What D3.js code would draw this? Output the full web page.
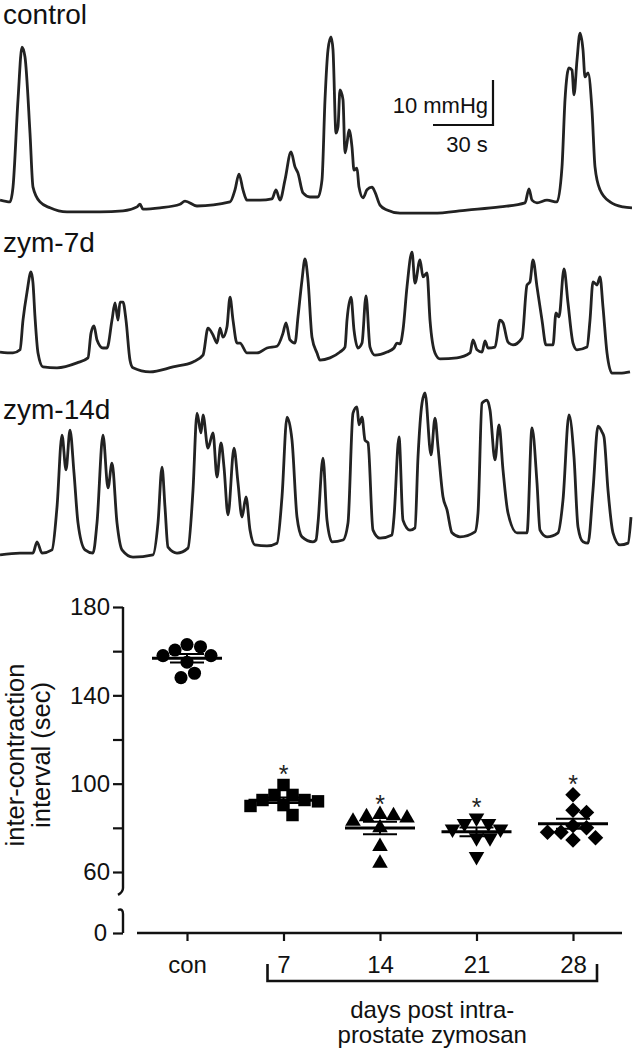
<!DOCTYPE html>
<html>
<head>
<meta charset="utf-8">
<script src="https://cdn.jsdelivr.net/npm/d3@7"></script>
<style>
  html, body { margin: 0; padding: 0; background: #fff; }
  svg { display: block; font-family: "Liberation Sans", Arial, Helvetica, sans-serif; }
</style>
</head>
<body>
<div id="chart"></div>
<script>
// Pressure traces: [time (s), pressure above trace floor (mmHg)]
const controlTrace = [[0,3.3],[5,2.9],[6.5,6.2],[9,25.6],[11,37.3],[12.5,35.1],[15,18.2],[16.5,6.2],[20,2.9],[25,1.6],[33.5,0.7],[50,0.7],[61.5,0.9],[68.5,1.8],[70,2.4],[71.5,1.3],[80,1.6],[90,2.4],[92.5,3.1],[98.5,2.0],[115,2.9],[117.5,5.6],[119.5,9.1],[121.5,5.6],[123.5,3.3],[130,3.3],[136,3.6],[138,5.6],[140,3.3],[142.5,7.8],[145.5,14.0],[147.5,10.7],[149,9.3],[151.5,4.9],[155,4.0],[159,4.0],[161,7.8],[162.5,25.6],[164,36.7],[165.5,39.6],[166.5,36.7],[168,18.2],[169,19.6],[170,27.8],[171.5,25.6],[172.5,13.8],[173.5,16.0],[174.5,18.9],[176,15.1],[177,10.0],[178.5,10.4],[179.5,6.2],[181.5,3.8],[183.5,5.6],[186,6.2],[187.5,5.1],[190,2.2],[193.5,1.1],[200,0.4],[216.5,0.4],[233.5,1.1],[250,1.8],[262.5,2.7],[264.5,5.8],[266,3.3],[268.5,2.7],[273.5,3.3],[278.5,2.9],[281,10.7],[282.5,25.6],[284.5,32.7],[286,32.2],[287,26.7],[288.5,34.4],[290,40.4],[291.5,36.7],[292.5,30.7],[294,31.6],[296,23.3],[297.5,10.7],[300,5.6],[305,2.9],[311.5,1.8],[316,1.6]];

const zym7Trace = [[0,5.1],[6.5,4.9],[10,5.6],[11.5,12.2],[13.5,18.4],[15.5,22.9],[16.5,20.4],[17.5,12.9],[19,4.9],[21.5,1.8],[28.5,1.6],[38.5,2.7],[44,3.8],[45.5,9.3],[47,10.9],[48.5,7.8],[51.5,6.0],[53.5,6.0],[56,12.2],[57.5,16.0],[59,12.2],[60,16.2],[61.5,16.2],[63,12.2],[65,3.3],[66.5,1.6],[75,0.7],[86.5,1.8],[96.5,2.9],[101.5,4.4],[104,10.4],[106.5,8.9],[108.5,7.1],[110,10.4],[111.5,8.4],[113.5,10.7],[115,17.3],[116.5,12.2],[118.5,7.1],[120,7.1],[123.5,4.9],[128.5,4.9],[133.5,6.0],[138.5,6.4],[141.5,9.3],[143,11.6],[145,7.8],[147.5,7.1],[149,12.9],[151,21.1],[152.5,25.8],[154,21.1],[156,8.4],[158.5,4.9],[160,3.3],[165,3.8],[170,5.1],[172.5,6.2],[173.5,12.2],[175.5,17.3],[177,10.0],[179,6.0],[181,7.1],[183,17.6],[185,6.2],[187.5,4.4],[193.5,5.1],[197,6.0],[198.5,7.1],[200,6.9],[201.5,10.0],[203.5,19.6],[206,27.3],[207.5,20.4],[210,25.6],[211.5,21.8],[213.5,22.7],[215,12.2],[217.5,4.9],[220,3.6],[228.5,3.8],[235,4.9],[236.5,7.8],[238.5,5.6],[241,5.1],[242.5,7.6],[244,6.0],[247.5,6.2],[250,12.2],[251.5,11.6],[254,7.3],[256.5,6.7],[261,8.2],[263.5,20.0],[265,20.7],[266.5,25.6],[268.5,19.6],[271,12.2],[273,6.7],[276.5,6.7],[278,13.8],[279.5,12.9],[282,23.6],[284,16.0],[286.5,7.1],[288.5,5.6],[293.5,6.2],[295,12.2],[296.5,20.7],[298.5,20.0],[300,21.8],[301.5,15.1],[303.5,4.9],[306,0.4],[310,0.4],[315,0.7]];

const zym14Trace = [[0,0.7],[10,1.1],[16.5,1.1],[18.5,3.6],[21,1.1],[26,1.8],[28.5,11.3],[31,27.3],[33,19.6],[35,28.4],[37,18.9],[39,7.8],[42.5,1.8],[46.5,1.1],[48.5,7.8],[51.5,27.3],[54,15.6],[56,21.1],[58.5,7.8],[61,1.8],[66.5,0.2],[76.5,0.7],[79,7.8],[81,20.2],[82.5,11.3],[84,2.4],[88.5,1.1],[94,2.2],[96.5,15.1],[98.5,32.2],[100.5,27.8],[101.5,31.8],[104,24.4],[106.5,27.8],[108.5,18.0],[110.5,25.6],[112,20.2],[114,9.6],[117,24.4],[119,16.7],[121,9.1],[123,13.6],[125,6.2],[127.5,2.9],[133.5,2.7],[138.5,3.3],[141,13.6],[143.5,31.3],[146,26.2],[148.5,9.1],[151,4.7],[156.5,3.6],[158,4.0],[159,7.8],[161.5,22.2],[163.5,8.4],[166,3.6],[171.5,4.0],[174,7.8],[176.5,32.2],[178.5,33.6],[179.5,29.6],[181,31.3],[182.5,26.2],[184,25.6],[186.5,6.2],[190,4.4],[196,5.1],[197,9.1],[199.5,26.9],[201.5,8.4],[205,6.2],[207.5,6.7],[209,22.4],[211,34.4],[212.5,36.7],[215.5,22.9],[217.5,31.1],[219,24.7],[221.5,13.6],[223.5,10.7],[226,5.6],[230,4.7],[237.5,5.8],[239,10.0],[241,34.4],[243.5,35.1],[245,32.9],[247.5,21.8],[249.5,29.6],[251.5,19.6],[254,10.0],[258.5,5.6],[263.5,5.6],[266,28.9],[268.5,16.7],[270,6.2],[273.5,4.7],[279,5.6],[281.5,12.9],[284.5,31.8],[287,22.4],[289,6.9],[291.5,3.6],[294,3.3],[296.5,15.1],[299,29.3],[301,28.0],[302,26.9],[304,15.1],[306.5,5.6],[310,2.9],[314,3.3],[315.5,9.1]];

const traceLabels = ['control', 'zym-7d', 'zym-14d'];

// Inter-contraction interval (sec) per animal
const groups = ['con', '7', '14', '21', '28'];
const conValues = [163, 158, 155, 158, 160.5, 162, 148, 150];
const day7Values = [99.4, 94.9, 94.9, 92.6, 92.6, 90.3, 89.9, 85.8, 92];
const day14Values = [85.5, 85, 83, 84.5, 86, 71.5, 64, 80];
const day21Values = [82, 84.5, 82, 79.5, 79.5, 75.5, 75.5, 67];
const day28Values = [95, 88, 87, 81, 78, 78, 80, 74.5, 75.5];
const significant = [false, true, true, true, true];
const yTicks = [60, 80, 100, 120, 140, 160, 180];

const W = 633, H = 1050;
const FONT = '"Liberation Sans", Arial, Helvetica, sans-serif';
const INK = '#111';

const svg = d3.select('#chart').append('svg')
  .attr('width', W).attr('height', H)
  .attr('viewBox', `0 0 ${W} ${H}`);

// ---- traces ----
const tScale = d3.scaleLinear().domain([0, 316.5]).range([0, W]);
const panels = [
  { data: controlTrace, floor: 215, labelY: 24 },
  { data: zym7Trace, floor: 375, labelY: 252 },
  { data: zym14Trace, floor: 558, labelY: 419 },
];

panels.forEach((p, i) => {
  const pScale = d3.scaleLinear().domain([0, 10]).range([p.floor, p.floor - 45]);
  p.pScale = pScale;
  const line = d3.line()
    .x(d => tScale(d[0]))
    .y(d => pScale(d[1]))
    .curve(d3.curveMonotoneX);
  svg.append('path')
    .datum(p.data)
    .attr('d', line)
    .attr('fill', 'none')
    .attr('stroke', '#222')
    .attr('stroke-width', 2.8)
    .attr('stroke-linejoin', 'round');
  svg.append('text')
    .attr('x', 3).attr('y', p.labelY)
    .attr('font-size', 28).attr('fill', INK)
    .text(traceLabels[i]);
});

// scale bar (10 mmHg / 30 s)
const barX = 493, barY = 125;
const barH = panels[0].pScale(0) - panels[0].pScale(10);
const barW = tScale(30) - tScale(0);
svg.append('path')
  .attr('d', `M${barX},${barY - barH}V${barY}H${barX - barW}`)
  .attr('fill', 'none').attr('stroke', INK).attr('stroke-width', 2.2);
svg.append('text')
  .attr('x', barX - 5).attr('y', barY - 12)
  .attr('text-anchor', 'end').attr('font-size', 22).attr('fill', INK)
  .text('10 mmHg');
svg.append('text')
  .attr('x', barX - barW / 2 + 4).attr('y', barY + 27)
  .attr('text-anchor', 'middle').attr('font-size', 22).attr('fill', INK)
  .text('30 s');

// ---- scatter plot ----
const y = d3.scaleLinear().domain([60, 180]).range([872, 607]);
const yLow = d3.scaleLinear().domain([0, 10]).range([933, 911]);
const x = d3.scalePoint().domain(groups).range([187, 573]);
const axisX = 123;

// y axis (upper part)
const yAxis = d3.axisLeft(y)
  .tickValues(yTicks)
  .tickSize(10)
  .tickSizeOuter(0)
  .tickFormat(d => (d - 60) % 40 === 0 ? d : '');
const gy = svg.append('g').attr('transform', `translate(${axisX},0)`).call(yAxis);
gy.select('.domain').remove();
gy.selectAll('.tick line').attr('stroke', INK).attr('stroke-width', 2.2);
gy.selectAll('.tick text')
  .attr('x', -13).attr('font-size', 24).attr('font-family', FONT).attr('fill', INK);

// y axis (lower part, zero)
const yAxisLow = d3.axisLeft(yLow).tickValues([0]).tickSize(10).tickSizeOuter(0);
const gyl = svg.append('g').attr('transform', `translate(${axisX},0)`).call(yAxisLow);
gyl.select('.domain').remove();
gyl.selectAll('.tick line').attr('stroke', INK).attr('stroke-width', 2.2);
gyl.selectAll('.tick text')
  .attr('x', -16).attr('font-size', 24).attr('font-family', FONT).attr('fill', INK);

// axis line with break
const breakTop = y(51), breakBot = yLow(10);
svg.append('path')
  .attr('d', `M${axisX},${y(180)}V${breakTop - 4}Q${axisX},${breakTop} ${axisX - 5},${breakTop + 3}`)
  .attr('fill', 'none').attr('stroke', INK).attr('stroke-width', 2.4);
svg.append('path')
  .attr('d', `M${axisX - 5},${breakBot - 1}Q${axisX},${breakBot - 3} ${axisX},${breakBot + 3}V${yLow(0)}`)
  .attr('fill', 'none').attr('stroke', INK).attr('stroke-width', 2.4);

// x axis
const xAxisY = yLow(0);
const xAxis = d3.axisBottom(x).tickSize(8).tickSizeOuter(0);
const gx = svg.append('g').attr('transform', `translate(0,${xAxisY})`).call(xAxis);
gx.select('.domain')
  .attr('d', `M${x('con') - 50},0H${x('28') + 49}`)
  .attr('stroke', INK).attr('stroke-width', 2.4);
gx.selectAll('.tick line').attr('stroke', INK).attr('stroke-width', 2.2);
gx.selectAll('.tick text')
  .attr('y', 23).attr('font-size', 24).attr('font-family', FONT).attr('fill', INK);

// bracket under zymosan days
const brL = x('7') - 16, brR = x('28') + 24, brTop = xAxisY + 31, brBot = xAxisY + 48;
svg.append('path')
  .attr('d', `M${brL},${brTop}V${brBot}H${brR}V${brTop}`)
  .attr('fill', 'none').attr('stroke', INK).attr('stroke-width', 2.6);
const brMid = (brL + brR) / 2;
svg.append('text')
  .attr('x', brMid).attr('y', xAxisY + 85)
  .attr('text-anchor', 'middle').attr('font-size', 24).attr('fill', INK)
  .text('days post intra-');
svg.append('text')
  .attr('x', brMid).attr('y', xAxisY + 110)
  .attr('text-anchor', 'middle').attr('font-size', 24).attr('fill', INK)
  .text('prostate zymosan');

// y title
const yTitle = svg.append('g').attr('transform', 'translate(0,755) rotate(-90)');
yTitle.append('text')
  .attr('x', 0).attr('y', 24)
  .attr('text-anchor', 'middle').attr('font-size', 25.5).attr('fill', INK)
  .text('inter-contraction');
yTitle.append('text')
  .attr('x', 0).attr('y', 50)
  .attr('text-anchor', 'middle').attr('font-size', 25.5).attr('fill', INK)
  .text('interval (sec)');

// markers
const groupValues = [conValues, day7Values, day14Values, day21Values, day28Values];
const markers = [
  { type: d3.symbolCircle, size: 135, rot: 0 },
  { type: d3.symbolSquare, size: 155, rot: 0 },
  { type: d3.symbolTriangle, size: 105, rot: 0 },
  { type: d3.symbolTriangle, size: 105, rot: 180 },
  { type: d3.symbolSquare, size: 120, rot: 45 },
];

function swarm(vals, cx, minD) {
  const placed = [];
  const out = new Array(vals.length);
  const order = vals.map((v, i) => i).sort((a, b) => vals[b] - vals[a]);
  order.forEach(i => {
    const py = y(vals[i]);
    for (let k = 0; k < 400; k++) {
      const off = (k % 2 ? 1 : -1) * Math.ceil(k / 2) * 1.5;
      const px = cx + off;
      if (placed.every(q => Math.hypot(q[0] - px, q[1] - py) >= minD)) {
        placed.push([px, py]);
        out[i] = [px, py];
        break;
      }
    }
  });
  return out;
}

groups.forEach((g, gi) => {
  const vals = groupValues[gi];
  const cx = x(g);
  const m = markers[gi];
  const pts = swarm(vals, cx, 13);
  const sym = d3.symbol().type(m.type).size(m.size);

  svg.append('g').selectAll('path')
    .data(pts)
    .join('path')
    .attr('d', sym)
    .attr('transform', d => `translate(${d[0]},${d[1]}) rotate(${m.rot})`)
    .attr('fill', '#000');

  const mean = d3.mean(vals);
  const sem = d3.deviation(vals) / Math.sqrt(vals.length);
  const lines = svg.append('g').attr('stroke', '#000').attr('fill', 'none');
  lines.append('line')
    .attr('x1', cx - 35).attr('x2', cx + 35)
    .attr('y1', y(mean)).attr('y2', y(mean))
    .attr('stroke-width', 3);
  lines.append('line')
    .attr('x1', cx).attr('x2', cx)
    .attr('y1', y(mean - sem)).attr('y2', y(mean + sem))
    .attr('stroke-width', 2);
  [mean - sem, mean + sem].forEach(v => {
    lines.append('line')
      .attr('x1', cx - 17).attr('x2', cx + 17)
      .attr('y1', y(v)).attr('y2', y(v))
      .attr('stroke-width', 2);
  });

  if (significant[gi]) {
    svg.append('text')
      .attr('x', cx).attr('y', y(d3.max(vals)) - 2)
      .attr('text-anchor', 'middle').attr('font-size', 25).attr('fill', '#222')
      .text('*');
  }
});
</script>
</body>
</html>
